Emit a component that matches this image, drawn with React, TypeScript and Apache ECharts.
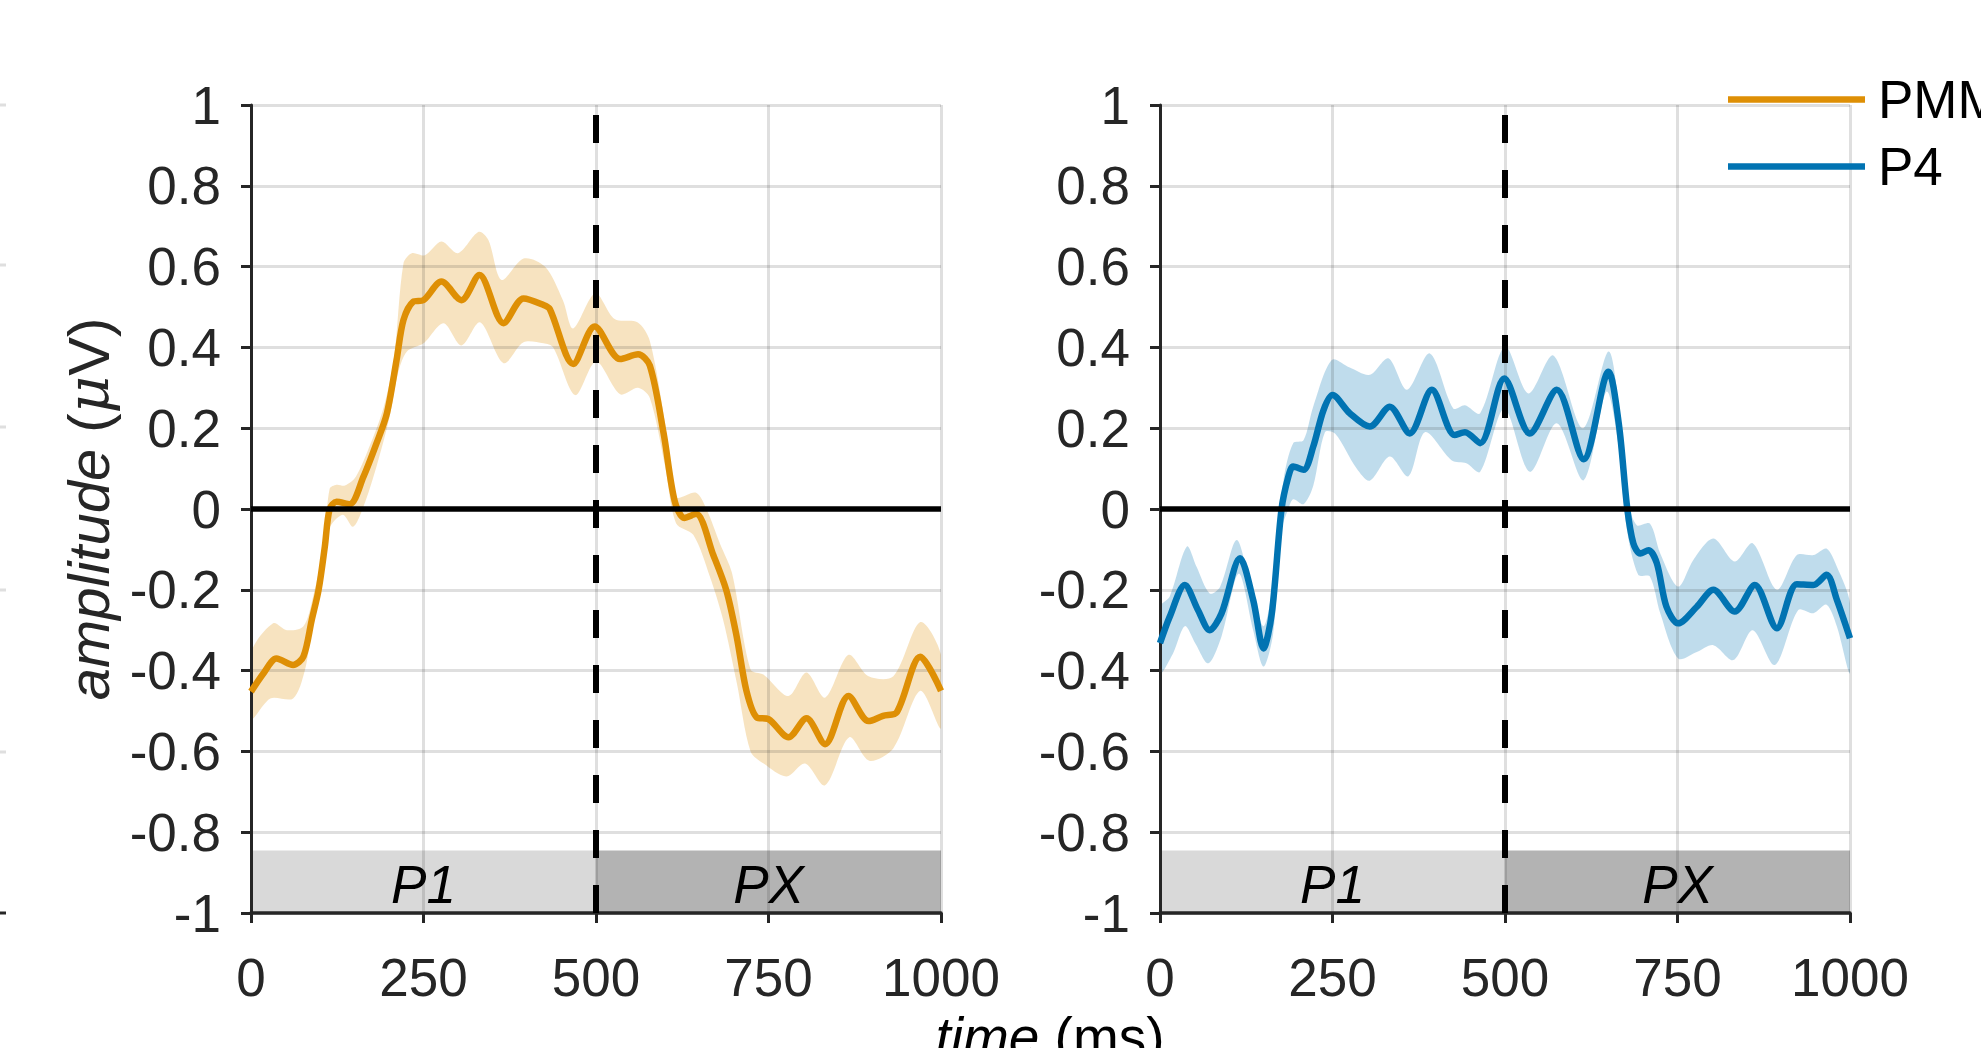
import React, { useEffect, useRef } from 'react';
import * as echarts from 'echarts';

// ---------------- data ----------------
const xTicks = [0, 250, 500, 750, 1000];
const yMin = -1;
const yMax = 1;
const yStep = 0.2;
const onsetTime = 500;
const periodNames = ['P1', 'PX'];
const periodStarts = [0, 500];
const periodEnds = [500, 1000];
const periodTop = -0.845;
const periodLabelY = -0.93;

const pmmMean: number[][] = [
  [0, -0.452], [18, -0.407], [37, -0.37], [61, -0.386], [76, -0.365], [88, -0.275], [98, -0.2],
  [107, -0.093], [114, 0], [124, 0.018], [143, 0.012], [163, 0.08], [182, 0.163], [197, 0.237],
  [211, 0.369], [221, 0.468], [235, 0.513], [250, 0.517], [276, 0.563], [305, 0.517], [331, 0.579],
  [366, 0.46], [395, 0.521], [424, 0.505], [433, 0.495], [467, 0.359], [498, 0.452], [535, 0.371],
  [561, 0.383], [578, 0.355], [598, 0.187], [614, 0.02], [628, -0.022], [645, -0.012], [670, -0.114],
  [689, -0.202], [704, -0.317], [718, -0.45], [733, -0.516], [750, -0.52], [779, -0.565], [805, -0.518],
  [832, -0.582], [866, -0.463], [895, -0.525], [916, -0.512], [936, -0.503], [970, -0.366], [1000, -0.45],
];
const pmmUpper: number[][] = [
  [0, -0.357], [32, -0.283], [52, -0.3], [76, -0.29], [90, -0.217], [105, -0.093], [114, 0.05],
  [124, 0.06], [136, 0.058], [152, 0.08], [173, 0.16], [192, 0.25], [207, 0.37], [221, 0.608],
  [233, 0.633], [252, 0.628], [276, 0.662], [300, 0.633], [330, 0.686], [344, 0.666], [363, 0.567],
  [395, 0.62], [426, 0.6], [452, 0.517], [467, 0.447], [499, 0.534], [527, 0.47], [560, 0.462],
  [578, 0.416], [600, 0.213], [616, 0.03], [645, 0.04], [660, 0.0], [680, -0.087], [697, -0.158],
  [724, -0.397], [743, -0.41], [779, -0.463], [805, -0.405], [832, -0.467], [866, -0.361], [895, -0.414],
  [931, -0.414], [970, -0.28], [1000, -0.361],
];
const pmmLower: number[][] = [
  [0, -0.52], [28, -0.469], [61, -0.469], [78, -0.4], [88, -0.3], [100, -0.19], [113, -0.05],
  [133, -0.014], [148, -0.044], [163, 0.006], [182, 0.106], [201, 0.229], [213, 0.336], [226, 0.39],
  [250, 0.41], [279, 0.46], [305, 0.405], [332, 0.462], [366, 0.361], [395, 0.413], [424, 0.41],
  [438, 0.4], [470, 0.282], [500, 0.365], [535, 0.284], [561, 0.3], [578, 0.275], [600, 0.107],
  [616, -0.035], [641, -0.064], [665, -0.167], [684, -0.273], [704, -0.43], [724, -0.6], [743, -0.63],
  [776, -0.662], [803, -0.63], [832, -0.684], [867, -0.565], [896, -0.623], [931, -0.592], [970, -0.45],
  [1000, -0.543],
];

const p4Mean: number[][] = [
  [0, -0.332], [14, -0.267], [36, -0.188], [55, -0.25], [72, -0.3], [89, -0.259], [116, -0.122],
  [135, -0.225], [150, -0.345], [162, -0.259], [176, -0.002], [186, 0.08], [193, 0.105], [208, 0.097],
  [222, 0.154], [237, 0.245], [250, 0.282], [275, 0.237], [304, 0.204], [333, 0.253], [362, 0.187],
  [394, 0.295], [427, 0.183], [442, 0.19], [464, 0.163], [499, 0.323], [536, 0.187], [575, 0.295],
  [614, 0.123], [650, 0.34], [665, 0.21], [677, 0.004], [686, -0.085], [696, -0.11], [708, -0.102],
  [720, -0.134], [734, -0.242], [751, -0.283], [778, -0.242], [802, -0.2], [833, -0.254], [862, -0.188],
  [894, -0.295], [923, -0.186], [947, -0.188], [966, -0.163], [981, -0.225], [1000, -0.32],
];
const p4Upper: number[][] = [
  [0, -0.242], [14, -0.217], [39, -0.093], [53, -0.143], [72, -0.209], [87, -0.193], [111, -0.077],
  [130, -0.18], [150, -0.29], [164, -0.18], [179, 0.072], [193, 0.163], [208, 0.17], [222, 0.253],
  [249, 0.369], [275, 0.35], [304, 0.332], [331, 0.373], [358, 0.295], [391, 0.385], [425, 0.249],
  [442, 0.257], [464, 0.237], [500, 0.402], [534, 0.286], [570, 0.38], [613, 0.2], [650, 0.39],
  [667, 0.22], [678, 0.02], [691, -0.04], [710, -0.036], [725, -0.11], [751, -0.192], [773, -0.126],
  [802, -0.073], [833, -0.13], [859, -0.085], [894, -0.2], [923, -0.114], [947, -0.114], [966, -0.098],
  [981, -0.143], [1000, -0.233],
];
const p4Lower: number[][] = [
  [0, -0.407], [19, -0.357], [36, -0.29], [51, -0.332], [70, -0.382], [89, -0.316], [114, -0.16],
  [135, -0.3], [150, -0.39], [164, -0.308], [176, -0.052], [186, 0.0], [193, 0.024], [208, 0.012],
  [222, 0.057], [239, 0.19], [254, 0.186], [285, 0.1], [304, 0.07], [333, 0.13], [360, 0.081],
  [384, 0.19], [423, 0.12], [444, 0.113], [464, 0.092], [499, 0.249], [536, 0.092], [575, 0.212],
  [614, 0.071], [647, 0.29], [664, 0.163], [676, -0.044], [693, -0.163], [710, -0.167], [725, -0.258],
  [751, -0.37], [778, -0.354], [802, -0.337], [831, -0.374], [859, -0.3], [891, -0.386], [925, -0.25],
  [947, -0.258], [966, -0.237], [981, -0.291], [1000, -0.407],
];

const panels = [
  { name: 'PMM', mean: pmmMean, upper: pmmUpper, lower: pmmLower },
  { name: 'P4', mean: p4Mean, upper: p4Upper, lower: p4Lower },
];

// ---------------- styles ----------------
const FONT = "'Liberation Sans', Arial, Helvetica, sans-serif";
const TICK_SIZE = 53;
const LABEL_SIZE = 58;
const AXIS_COLOR = '#262626';
const GRID_COLOR = 'rgba(38,38,38,0.15)';
const lineColors = ['#DE8F05', '#0173B2'];
const bandColors = ['rgba(222,143,5,0.25)', 'rgba(1,115,178,0.25)'];
const periodColors = ['#D9D9D9', '#B3B3B3'];
const gridRects = [
  { left: 251, top: 105, width: 690, height: 808 },
  { left: 1160, top: 105, width: 690, height: 808 },
];

function buildOption() {
  const grid = gridRects.map((g) => ({ ...g, containLabel: false }));
  const xAxis = gridRects.map((_, i) => ({
    type: 'value',
    gridIndex: i,
    min: xTicks[0],
    max: xTicks[xTicks.length - 1],
    interval: xTicks[1] - xTicks[0],
    z: 3,
    axisLine: { onZero: false, lineStyle: { color: AXIS_COLOR, width: 3.5 } },
    axisTick: { show: true, length: 10, lineStyle: { color: AXIS_COLOR, width: 3 } },
    axisLabel: {
      color: AXIS_COLOR,
      fontSize: TICK_SIZE,
      fontFamily: FONT,
      margin: 38,
      formatter: (v: number) => String(v),
    },
    splitLine: { show: true, lineStyle: { color: GRID_COLOR, width: 3 } },
  }));
  const yAxis = gridRects.map((_, i) => ({
    type: 'value',
    gridIndex: i,
    min: yMin,
    max: yMax,
    interval: yStep,
    z: 3,
    axisLine: { show: true, onZero: false, lineStyle: { color: AXIS_COLOR, width: 3 } },
    axisTick: { show: true, length: 10, lineStyle: { color: AXIS_COLOR, width: 3 } },
    axisLabel: { color: AXIS_COLOR, fontSize: TICK_SIZE, fontFamily: FONT, margin: 30 },
    splitLine: { show: true, lineStyle: { color: GRID_COLOR, width: 3 } },
  }));

  const series: any[] = [];
  panels.forEach((p, i) => {
    series.push({
      type: 'custom',
      name: p.name + ' band',
      xAxisIndex: i,
      yAxisIndex: i,
      z: 1,
      clip: true,
      silent: true,
      data: [[p.mean[0][0], p.mean[0][1]]],
      renderItem: (_params: any, api: any) => {
        const pts = p.upper
          .map((d) => api.coord(d))
          .concat(p.lower.slice().reverse().map((d) => api.coord(d)));
        return {
          type: 'polygon',
          shape: { points: pts, smooth: 0.3 },
          style: { fill: bandColors[i], stroke: 'none' },
        };
      },
    });
    series.push({
      type: 'custom',
      name: 'periods ' + i,
      xAxisIndex: i,
      yAxisIndex: i,
      z: 1,
      silent: true,
      data: periodStarts.map((s, k) => [s, periodEnds[k], k]),
      renderItem: (_params: any, api: any) => {
        const k = api.value(2);
        const a = api.coord([api.value(0), periodTop]);
        const b = api.coord([api.value(1), yMin]);
        const c = api.coord([(api.value(0) + api.value(1)) / 2, periodLabelY]);
        return {
          type: 'group',
          children: [
            {
              type: 'rect',
              shape: { x: a[0], y: a[1], width: b[0] - a[0], height: b[1] - a[1] },
              style: { fill: periodColors[k] },
            },
            {
              type: 'text',
              x: c[0],
              y: c[1],
              style: {
                text: periodNames[k],
                fill: '#000',
                fontSize: TICK_SIZE,
                fontFamily: FONT,
                fontStyle: 'italic',
                align: 'center',
                verticalAlign: 'middle',
                textAlign: 'center',
                textVerticalAlign: 'middle',
              },
            },
          ],
        };
      },
    });
    series.push({
      type: 'line',
      name: p.name,
      xAxisIndex: i,
      yAxisIndex: i,
      z: 4,
      data: p.mean,
      smooth: 0.3,
      showSymbol: false,
      symbol: 'none',
      color: lineColors[i],
      lineStyle: { color: lineColors[i], width: 6.5 },
    });
    series.push({
      type: 'line',
      name: 'zero ' + i,
      xAxisIndex: i,
      yAxisIndex: i,
      z: 5,
      data: [[xTicks[0], 0], [xTicks[xTicks.length - 1], 0]],
      showSymbol: false,
      symbol: 'none',
      silent: true,
      lineStyle: { color: '#000', width: 5.5 },
    });
    series.push({
      type: 'line',
      name: 'onset ' + i,
      xAxisIndex: i,
      yAxisIndex: i,
      z: 6,
      data: [[onsetTime, yMin], [onsetTime, yMax]],
      showSymbol: false,
      symbol: 'none',
      silent: true,
      lineStyle: { color: '#000', width: 6, type: [28, 27] },
    });
  });

  const stubYs = [105, 265, 427, 590, 752];
  const graphic: any[] = [
    ...stubYs.map((y) => ({
      type: 'line',
      shape: { x1: 0, y1: y, x2: 6, y2: y },
      style: { stroke: GRID_COLOR, lineWidth: 3 },
    })),
    {
      type: 'line',
      shape: { x1: 0, y1: 913, x2: 6, y2: 913 },
      style: { stroke: AXIS_COLOR, lineWidth: 3 },
    },
    {
      type: 'text',
      x: 88,
      y: 509,
      rotation: Math.PI / 2,
      style: {
        text: '{a|amplitude} ({m|μ}V)',
        fill: AXIS_COLOR,
        fontSize: LABEL_SIZE,
        fontFamily: FONT,
        textAlign: 'center',
        textVerticalAlign: 'middle',
        rich: {
          a: { fontStyle: 'italic', fontSize: LABEL_SIZE, fontFamily: FONT, fill: AXIS_COLOR },
          m: { fontStyle: 'italic', fontSize: LABEL_SIZE, fontFamily: "'DejaVu Serif', serif", fill: AXIS_COLOR },
        },
      },
    },
    {
      type: 'text',
      x: 1050,
      y: 1037,
      style: {
        text: '{a|time} (ms)',
        fill: '#000',
        fontSize: TICK_SIZE + 2,
        fontFamily: FONT,
        textAlign: 'center',
        textVerticalAlign: 'middle',
        rich: {
          a: { fontStyle: 'italic', fontSize: TICK_SIZE + 2, fontFamily: FONT, fill: '#000' },
        },
      },
    },
  ];

  return {
    animation: false,
    backgroundColor: '#ffffff',
    grid,
    xAxis,
    yAxis,
    legend: {
      data: panels.map((p) => p.name),
      orient: 'vertical',
      left: 1728,
      top: 73,
      padding: 0,
      icon: 'rect',
      itemWidth: 137,
      itemHeight: 6.5,
      itemGap: 14,
      selectedMode: false,
      textStyle: { color: '#000', fontSize: TICK_SIZE, fontFamily: FONT, lineHeight: 53, padding: [0, 0, 0, 8] },
    },
    graphic,
    series,
  };
}

export default function App() {
  const ref = useRef<HTMLDivElement>(null);
  useEffect(() => {
    if (!ref.current) return;
    const chart = echarts.init(ref.current, undefined, { renderer: 'svg' });
    chart.setOption(buildOption() as any);
    return () => chart.dispose();
  }, []);
  return (
    <div
      ref={ref}
      style={{ position: 'absolute', left: 0, top: 0, width: 1981, height: 1048, background: '#fff' }}
    />
  );
}
